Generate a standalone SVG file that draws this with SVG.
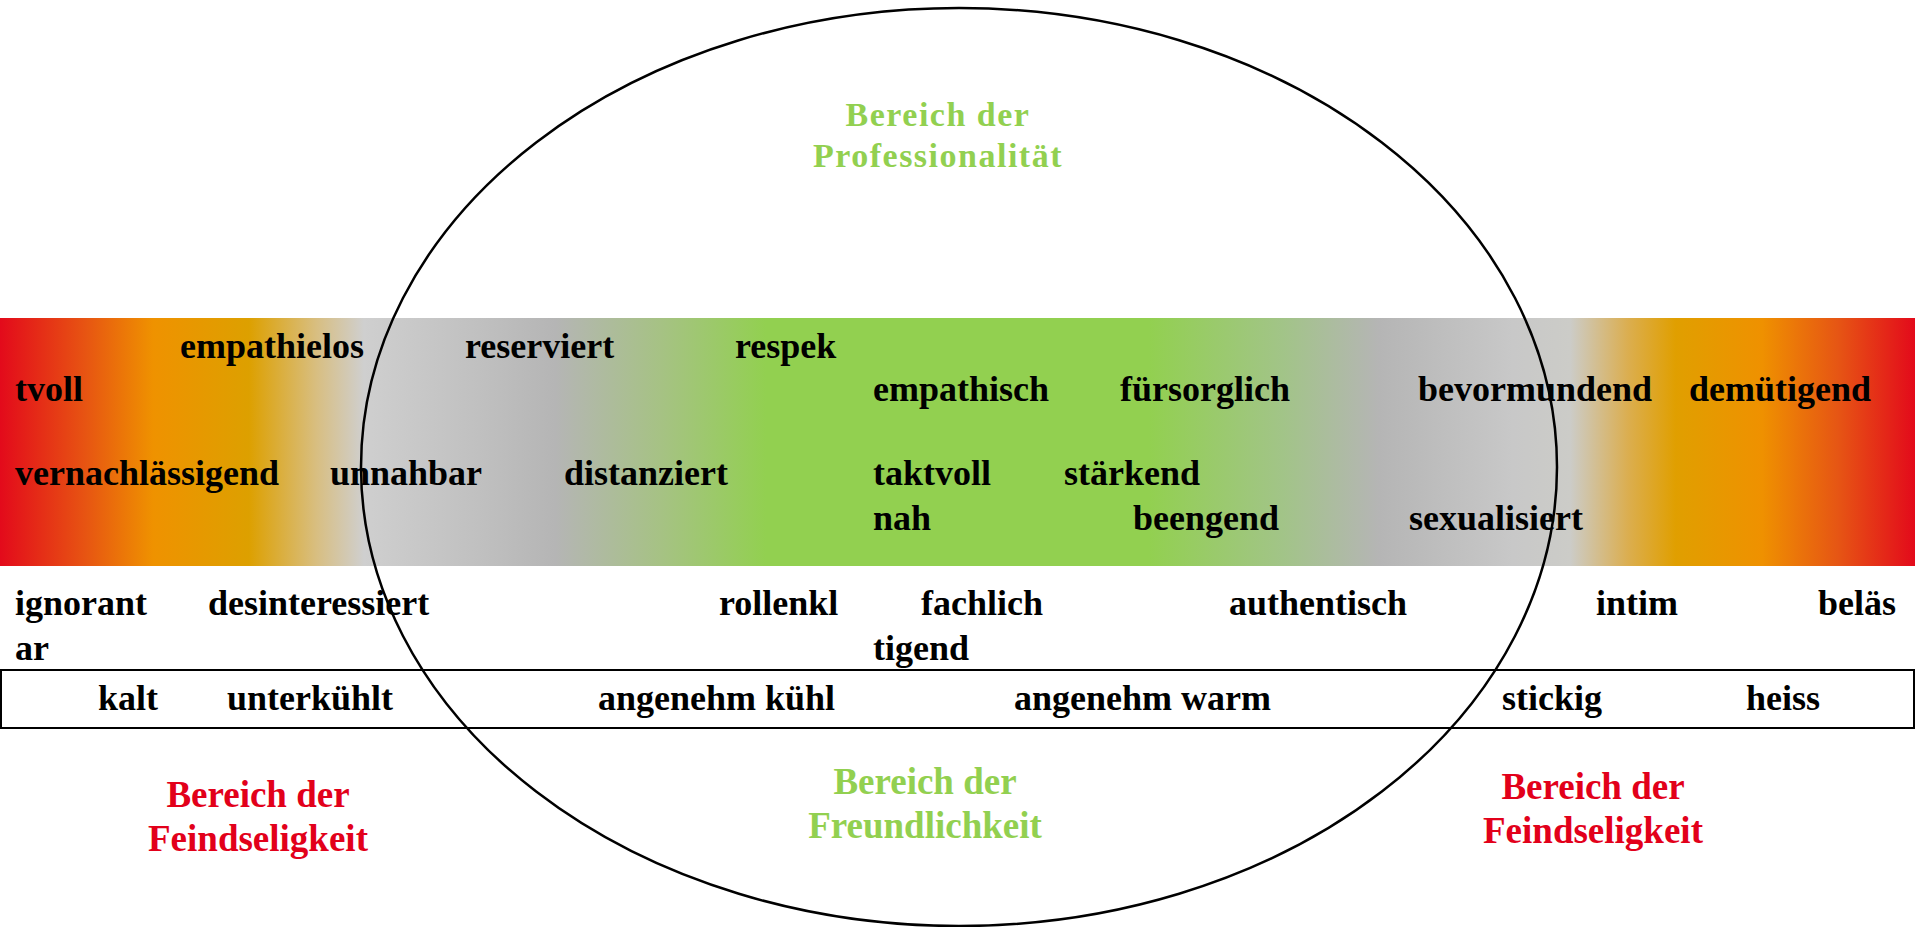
<svg xmlns="http://www.w3.org/2000/svg" width="1915" height="927" viewBox="0 0 1915 927">
  <style>
    .w { font-family: "Liberation Serif", "DejaVu Serif", serif; font-weight: bold; font-size: 36px; fill: #000; }
    .t { font-family: "Liberation Serif", "DejaVu Serif", serif; font-weight: bold; font-size: 34px; text-anchor: middle; }
    .b { font-size: 37px; }
    .g { fill: #92D050; }
    .r { fill: #E2001A; }
  </style>
  <defs>
    <linearGradient id="band" x1="0" y1="0" x2="1" y2="0">
      <stop offset="0" stop-color="#E30A1B"/>
      <stop offset="0.045" stop-color="#E75512"/>
      <stop offset="0.08" stop-color="#EF9200"/>
      <stop offset="0.13" stop-color="#DDA000"/>
      <stop offset="0.165" stop-color="#D8BE80"/>
      <stop offset="0.19" stop-color="#CFCFCF"/>
      <stop offset="0.25" stop-color="#C0C0C0"/>
      <stop offset="0.29" stop-color="#B5B5B5"/>
      <stop offset="0.345" stop-color="#A6C284"/>
      <stop offset="0.40" stop-color="#92D050"/>
      <stop offset="0.60" stop-color="#92D050"/>
      <stop offset="0.67" stop-color="#A2C488"/>
      <stop offset="0.72" stop-color="#B5B5B5"/>
      <stop offset="0.79" stop-color="#C8C8C8"/>
      <stop offset="0.82" stop-color="#CCCCC8"/>
      <stop offset="0.85" stop-color="#DBAE50"/>
      <stop offset="0.875" stop-color="#E09F00"/>
      <stop offset="0.92" stop-color="#EF9100"/>
      <stop offset="0.96" stop-color="#E65514"/>
      <stop offset="1" stop-color="#E30A1B"/>
    </linearGradient>
  </defs>
  <rect width="1915" height="927" fill="#fff"/>
  <g id="band-bg">
    <rect x="0" y="318" width="1915" height="248" fill="url(#band)"/>
  </g>
  <g id="temperature-box">
    <rect x="1" y="670" width="1913" height="58" fill="none" stroke="#000" stroke-width="2"/>
  </g>
  <g id="connectors">
    <ellipse cx="959" cy="467" rx="598" ry="459" fill="none" stroke="#000" stroke-width="2.5"/>
  </g>
  <g id="band-words">
    <text class="w" x="180" y="358">empathielos</text>
    <text class="w" x="465" y="358">reserviert</text>
    <text class="w" x="735" y="358">respek</text>
    <text class="w" x="15" y="401">tvoll</text>
    <text class="w" x="873" y="401">empathisch</text>
    <text class="w" x="1120" y="401">fürsorglich</text>
    <text class="w" x="1418" y="401">bevormundend</text>
    <text class="w" x="1689" y="401">demütigend</text>
    <text class="w" x="15" y="485">vernachlässigend</text>
    <text class="w" x="330" y="485">unnahbar</text>
    <text class="w" x="564" y="485">distanziert</text>
    <text class="w" x="873" y="485">taktvoll</text>
    <text class="w" x="1064" y="485">stärkend</text>
    <text class="w" x="873" y="530">nah</text>
    <text class="w" x="1133" y="530">beengend</text>
    <text class="w" x="1409" y="530">sexualisiert</text>
  </g>
  <g id="lower-words">
    <text class="w" x="15" y="615">ignorant</text>
    <text class="w" x="208" y="615">desinteressiert</text>
    <text class="w" x="719" y="615">rollenkl</text>
    <text class="w" x="921" y="615">fachlich</text>
    <text class="w" x="1229" y="615">authentisch</text>
    <text class="w" x="1596" y="615">intim</text>
    <text class="w" x="1818" y="615">beläs</text>
    <text class="w" x="15" y="660">ar</text>
    <text class="w" x="873" y="660">tigend</text>
  </g>
  <g id="temperature-words">
    <text class="w" x="98" y="710">kalt</text>
    <text class="w" x="227" y="710">unterkühlt</text>
    <text class="w" x="598" y="710">angenehm kühl</text>
    <text class="w" x="1014" y="710">angenehm warm</text>
    <text class="w" x="1502" y="710">stickig</text>
    <text class="w" x="1746" y="710">heiss</text>
  </g>
  <g id="title-professionalitaet">
    <text class="t g" x="938" y="126" letter-spacing="1.5">Bereich der</text>
    <text class="t g" x="938" y="167" letter-spacing="1.5">Professionalität</text>
  </g>
  <g id="title-freundlichkeit">
    <text class="t b g" x="925" y="794">Bereich der</text>
    <text class="t b g" x="925" y="838">Freundlichkeit</text>
  </g>
  <g id="title-feindseligkeit-left">
    <text class="t b r" x="258" y="807">Bereich der</text>
    <text class="t b r" x="258" y="851">Feindseligkeit</text>
  </g>
  <g id="title-feindseligkeit-right">
    <text class="t b r" x="1593" y="799">Bereich der</text>
    <text class="t b r" x="1593" y="843">Feindseligkeit</text>
  </g>
</svg>
